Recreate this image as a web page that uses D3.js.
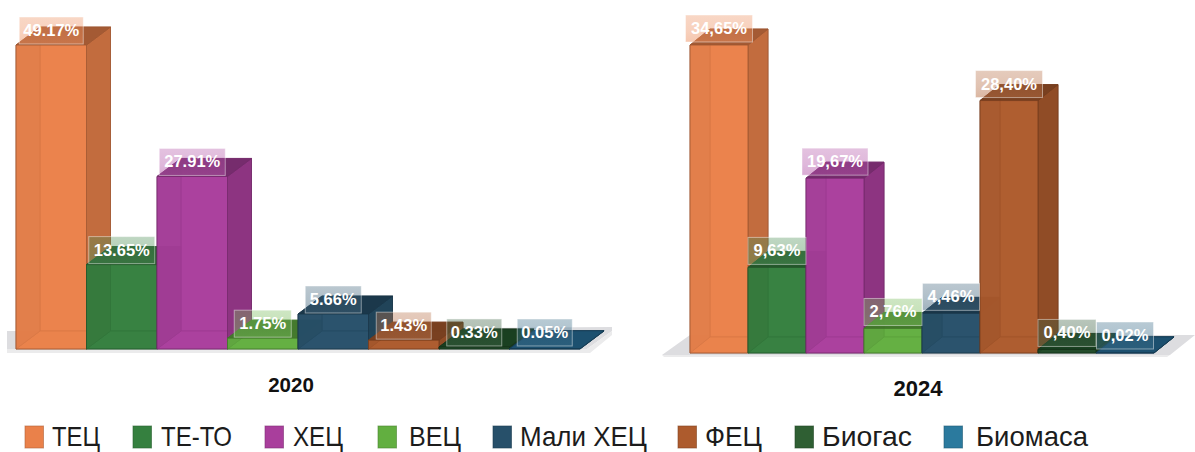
<!DOCTYPE html>
<html>
<head>
<meta charset="utf-8">
<script src="https://cdn.jsdelivr.net/npm/d3@7"></script>
<style>
html,body{margin:0;padding:0;background:#fff;}
svg{display:block;}
</style>
</head>
<body>
<svg id="chart" width="1195" height="452"></svg>
<script>
// Installed capacity share by source, in percent
const categories2020 = ["ТЕЦ","ТЕ-ТО","ХЕЦ","ВЕЦ","Мали ХЕЦ","ФЕЦ","Биогас","Биомаса"];
const values2020 = [49.17,13.65,27.91,1.75,5.66,1.43,0.33,0.05];
const categories2024 = ["ТЕЦ","ТЕ-ТО","ХЕЦ","ВЕЦ","Мали ХЕЦ","ФЕЦ","Биогас","Биомаса"];
const values2024 = [34.65,9.63,19.67,2.76,4.46,28.40,0.40,0.02];
const barColors = ["#EA814A","#35803F","#A93E9C","#62AF40","#27506A","#AD5B2D","#1F4A27","#1F5878"];
const topDarken = [1.05,1.05,1.05,1.05,1.05,1.05,0.45,0.25];
const swatchColors = ["#EA814A","#35803F","#A93E9C","#62AF40","#27506A","#AD5B2D","#2F5F33","#2B7A9E"];
const legendSwatchX = [25,133,265,378,493,678,795,944];
const legendTextX = [52,161,293,409,520,705,822,976];
const legendTextW = [48,71,50,52,127,57,90,112];

const svg = d3.select("#chart");
const color = d3.scaleOrdinal().domain(categories2020).range(barColors);

// One fading fill per category for the boxes behind the value labels
const defs = svg.append("defs");
categories2020.forEach((c,i)=>{
  const grad = defs.append("linearGradient").attr("id","labelFill"+i).attr("x1",0).attr("x2",0).attr("y1",0).attr("y2",1);
  const mix = d3.interpolateRgb(color(c),"#fff")(0.12);
  grad.append("stop").attr("offset",0).attr("stop-color",mix).attr("stop-opacity",0.36);
  grad.append("stop").attr("offset",0.6).attr("stop-color",mix).attr("stop-opacity",0.42);
  grad.append("stop").attr("offset",1).attr("stop-color",mix).attr("stop-opacity",0.5);
});

const pts = a => a.map(p => p.join(",")).join(" ");

function panel(cfg){
  const g = svg.append("g");
  const x = d3.scaleBand().domain(cfg.categories).range(cfg.xRange).paddingInner(0).paddingOuter(0);
  const y = d3.scaleLinear().domain([0,d3.max(cfg.values)]).range(cfg.yRange);
  const dx = cfg.dx, dy = cfg.dy, y0 = y(0);

  // Floor plate
  g.append("polygon").attr("points",pts(cfg.floor)).attr("fill","#DDDDE0");
  g.append("polygon").attr("points",pts(cfg.floorEdge)).attr("fill","#EBEBEC");

  cfg.categories.forEach((c,i)=>{
    const v = cfg.values[i], L = x(c), R = L + x.bandwidth(), T = y(v);
    const base = d3.color(color(c));
    const edge = base.darker(1.1).formatHex();
    const bar = g.append("g").attr("stroke",edge).attr("stroke-width",1).attr("stroke-opacity",0.7).attr("stroke-linejoin","round");
    const face = (p,fill,op) => bar.append("polygon").attr("points",pts(p)).attr("fill",fill).attr("fill-opacity",op);
    // back, floor and left wall sit behind the translucent front
    face([[L+dx,y0+dy],[R+dx,y0+dy],[R+dx,T+dy],[L+dx,T+dy]],base.formatHex(),0.92);
    face([[L,y0],[R,y0],[R+dx,y0+dy],[L+dx,y0+dy]],base.formatHex(),0.92);
    face([[L,y0],[L+dx,y0+dy],[L+dx,T+dy],[L,T]],base.darker(0.5).formatHex(),0.9);
    face([[R,y0],[R+dx,y0+dy],[R+dx,T+dy],[R,T]],base.darker(0.55).formatHex(),0.95);
    face([[L,T],[R,T],[R+dx,T+dy],[L+dx,T+dy]],base.darker(topDarken[i]).formatHex(),0.97);
    face([[L,y0],[R,y0],[R,T],[L,T]],base.formatHex(),0.76);
  });

  // Value labels go on top of every bar
  cfg.categories.forEach((c,i)=>{
    const v = cfg.values[i], cx = x(c)+x.bandwidth()/2;
    const w = cfg.boxW[i], h = 27;
    const bottom = Math.min(y(v)-cfg.gap, y0-cfg.floorGap);
    const lab = g.append("g");
    lab.append("rect").attr("x",cx-w/2).attr("y",bottom-h).attr("width",w).attr("height",h)
      .attr("fill",`url(#labelFill${i})`).attr("stroke","#fff").attr("stroke-opacity",0.45);
    lab.append("text").attr("x",cx).attr("y",bottom-h/2+5.5).attr("text-anchor","middle")
      .attr("font-family","Liberation Sans, Arial, sans-serif").attr("font-weight",700).attr("font-size",16.5)
      .attr("fill","#fff").text(cfg.format(v));
  });

  g.append("text").attr("x",cfg.titleX).attr("y",cfg.titleY).attr("text-anchor","middle")
    .attr("font-family","Liberation Sans, Arial, sans-serif").attr("font-weight",700).attr("font-size",cfg.titleSize)
    .attr("fill","#111").text(cfg.title);
}

const dot = d => d.toFixed(2)+"%";
const comma = d => d.toFixed(2).replace(".",",")+"%";

panel({
  categories:categories2020, values:values2020, title:"2020", format:dot,
  xRange:[16,580], yRange:[349,45], dx:24, dy:-18, gap:1, floorGap:3,
  boxW:[64,66,66,57,56,55,55,55],
  floor:[[7,349],[7,331],[30,331],[612,327],[612,331],[587,349]],
  floorEdge:[[7,349],[587,349],[612,331],[612,335],[590,353],[7,353]],
  titleX:291, titleY:392, titleSize:20.5
});
panel({
  categories:categories2024, values:values2024, title:"2024", format:comma,
  xRange:[690,1154], yRange:[353,45], dx:20, dy:-16, gap:3, floorGap:4,
  boxW:[67,58,66,58,57,67,58,57],
  floor:[[662,355],[690,335],[1195,335],[1170,355]],
  floorEdge:[[662,355],[1170,355],[1167,357],[664,357]],
  titleX:918, titleY:396, titleSize:22
});

// Legend row
const legend = svg.append("g");
categories2020.forEach((c,i)=>{
  legend.append("rect").attr("x",legendSwatchX[i]).attr("y",426).attr("width",18.5).attr("height",22)
    .attr("fill",swatchColors[i]).attr("stroke",d3.color(swatchColors[i]).darker(0.8).formatHex()).attr("stroke-opacity",0.6);
  legend.append("text").attr("x",legendTextX[i]).attr("y",445.9)
    .attr("font-family","Liberation Sans, sans-serif").attr("font-size",28.5).attr("fill","#1c1c1c")
    .attr("textLength",legendTextW[i]).attr("lengthAdjust","spacingAndGlyphs").text(c);
});
</script>
</body>
</html>
